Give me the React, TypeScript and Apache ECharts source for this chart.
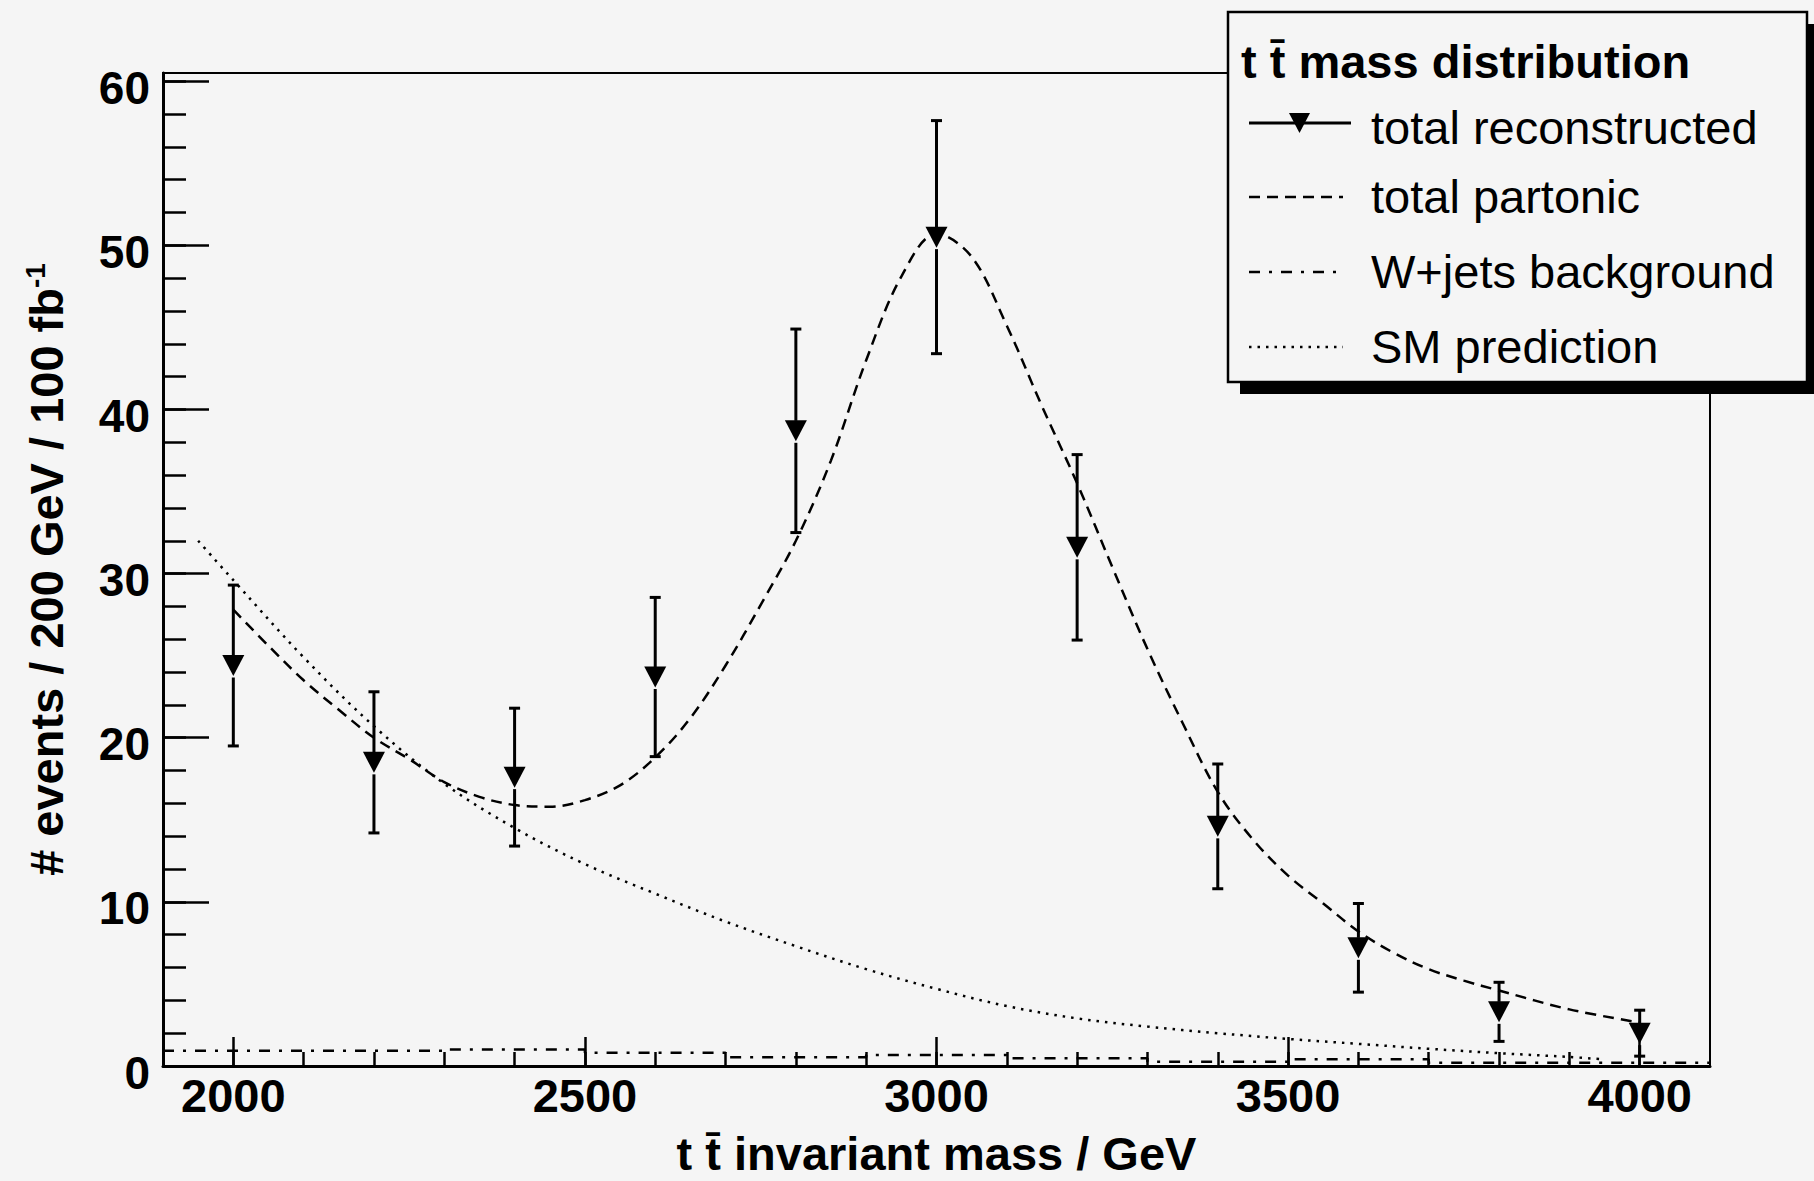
import React, { useEffect, useRef } from "react";
import * as echarts from "echarts";

const FONT = '"Liberation Sans", Arial, Helvetica, sans-serif';
const BG = "#f5f5f5";
const INK = "#000000";

// ---- data ----
const binCenters = [2000, 2200, 2400, 2600, 2800, 3000, 3200, 3400, 3600, 3800, 4000];
const binHalfWidth = 100;
const reconstructed = [24.4, 18.5, 17.6, 23.7, 38.7, 50.5, 31.6, 14.6, 7.2, 3.3, 2.0];
const reconstructedErr = [4.9, 4.3, 4.2, 4.85, 6.2, 7.1, 5.65, 3.8, 2.7, 1.8, 1.4];
const wjetsBackground = [0.93, 0.93, 1.0, 0.8, 0.53, 0.67, 0.47, 0.26, 0.41, 0.2, 0.2];

const partonicMass = [
  2000, 2050, 2100, 2150, 2200, 2250, 2300, 2350, 2400, 2450, 2500, 2550, 2600, 2650,
  2700, 2750, 2800, 2850, 2900, 2950, 3000, 3050, 3100, 3150, 3200, 3250, 3300, 3350,
  3400, 3450, 3500, 3550, 3600, 3650, 3700, 3750, 3800, 3900, 4000,
];
const partonicValues = [
  27.8, 25.6, 23.5, 21.7, 20.0, 18.7, 17.3, 16.4, 15.9, 15.8, 16.2, 17.1, 18.8, 21.2,
  24.4, 28.1, 32.0, 36.9, 43.0, 48.1, 50.7, 49.3, 45.1, 40.2, 35.5, 30.4, 25.4, 20.9,
  16.7, 13.8, 11.6, 9.9, 8.2, 6.9, 5.9, 5.2, 4.6, 3.45, 2.65,
];

const smMass = [
  1950, 2000, 2100, 2200, 2300, 2400, 2500, 2600, 2700, 2800, 2900, 3000, 3100, 3200,
  3300, 3400, 3500, 3600, 3700, 3800, 3900, 3950,
];
const smValues = [
  32.0, 29.6, 24.9, 20.7, 17.2, 14.5, 12.3, 10.5, 8.8, 7.3, 5.9, 4.7, 3.65, 2.9,
  2.4, 2.0, 1.65, 1.35, 1.05, 0.78, 0.55, 0.4,
];

const xMajorTicks = [2000, 2500, 3000, 3500, 4000];
const xMinorTicks = [
  2000, 2100, 2200, 2300, 2400, 2500, 2600, 2700, 2800, 2900, 3000,
  3100, 3200, 3300, 3400, 3500, 3600, 3700, 3800, 3900, 4000,
];
const yMajorTicks = [0, 10, 20, 30, 40, 50, 60];
const yMinorTicks = [
  0, 2, 4, 6, 8, 10, 12, 14, 16, 18, 20, 22, 24, 26, 28, 30,
  32, 34, 36, 38, 40, 42, 44, 46, 48, 50, 52, 54, 56, 58, 60,
];

const legendTitle = "t t\u0304 mass distribution";
const legendLabels = ["total reconstructed", "total partonic", "W+jets background", "SM prediction"];
const xTitle = "t t\u0304 invariant mass / GeV";

export default function App() {
  const ref = useRef<HTMLDivElement>(null);

  useEffect(() => {
    if (!ref.current) return;
    const chart = echarts.init(ref.current, null, { renderer: "svg" });

    const recoData = binCenters.map((x, i) => [x, reconstructed[i]]);
    const errData = binCenters.map((x, i) => [x, reconstructed[i], reconstructedErr[i]]);
    const partonicData = partonicMass.map((x, i) => [x, partonicValues[i]]);
    const smData = smMass.map((x, i) => [x, smValues[i]]);
    const wjetsData = binCenters.map((x, i) => [x - binHalfWidth, wjetsBackground[i]]);
    wjetsData.push([
      binCenters[binCenters.length - 1] + binHalfWidth,
      wjetsBackground[wjetsBackground.length - 1],
    ]);

    const renderErr = (params: any, api: any) => {
      const x = api.value(0);
      const y = api.value(1);
      const e = api.value(2);
      const pc = api.coord([x, y]);
      const pt = api.coord([x, y + e]);
      const pb = api.coord([x, y - e]);
      const st = { stroke: INK, lineWidth: 3 };
      const cap = 5.5;
      const children: any[] = [];
      if (pt[1] < pc[1] - 10)
        children.push({ type: "line", shape: { x1: pc[0], y1: pt[1], x2: pc[0], y2: pc[1] - 10 }, style: st });
      if (pb[1] > pc[1] + 12)
        children.push({ type: "line", shape: { x1: pc[0], y1: pc[1] + 12, x2: pc[0], y2: pb[1] }, style: st });
      children.push({ type: "line", shape: { x1: pc[0] - cap, y1: pt[1], x2: pc[0] + cap, y2: pt[1] }, style: st });
      children.push({ type: "line", shape: { x1: pc[0] - cap, y1: pb[1], x2: pc[0] + cap, y2: pb[1] }, style: st });
      return { type: "group", children };
    };

    const txt = (text: string, x: number, y: number, bold: boolean) => ({
      type: "text",
      x,
      y,
      z: 102,
      style: {
        text,
        fontSize: 47,
        fontWeight: bold ? "bold" : "normal",
        fontFamily: FONT,
        fill: INK,
        align: "left",
        verticalAlign: "middle",
        textAlign: "left",
        textVerticalAlign: "middle",
      },
    });

    const plain = (v: number) => String(v);
    const shifted = (v: number) => `{v|${v}}`;

    const option: any = {
      animation: false,
      backgroundColor: BG,
      textStyle: { fontFamily: FONT },
      grid: {
        left: 163,
        right: 104,
        top: 73,
        bottom: 115,
        show: true,
        borderColor: INK,
        borderWidth: 2,
        backgroundColor: "transparent",
        containLabel: false,
        outerBoundsMode: "none",
      },
      xAxis: [
        {
          type: "value",
          min: 1900,
          max: 4100,
          position: "bottom",
          axisLine: { show: true, onZero: false, lineStyle: { color: INK, width: 3 } },
          axisTick: { show: true, inside: true, length: 14, customValues: xMinorTicks, lineStyle: { color: INK, width: 2.5 } },
          axisLabel: { show: false },
          splitLine: { show: false },
          name: xTitle,
          nameLocation: "middle",
          nameGap: 64,
          nameTextStyle: { fontSize: 47, fontWeight: "bold", color: INK, fontFamily: FONT, lineHeight: 47 },
        },
        {
          type: "value",
          min: 1900,
          max: 4100,
          position: "bottom",
          axisLine: { show: false, onZero: false },
          axisTick: { show: true, inside: true, length: 29, customValues: xMajorTicks, lineStyle: { color: INK, width: 2.5 } },
          axisLabel: { show: true, customValues: xMajorTicks, formatter: plain, fontSize: 47, fontWeight: "bold", color: INK, margin: 6, fontFamily: FONT },
          splitLine: { show: false },
        },
      ],
      yAxis: [
        {
          type: "value",
          min: 0,
          max: 60.5,
          position: "left",
          axisLine: { show: true, onZero: false, lineStyle: { color: INK, width: 3 } },
          axisTick: { show: true, inside: true, length: 23, customValues: yMinorTicks, lineStyle: { color: INK, width: 2.5 } },
          axisLabel: { show: false },
          splitLine: { show: false },
          name: "{m|# events / 200 GeV / 100 fb}{s|-1}",
          nameLocation: "middle",
          nameRotate: 90,
          nameGap: 92,
          nameTextStyle: {
            rich: {
              m: { fontSize: 47, fontWeight: "bold", color: INK, fontFamily: FONT, lineHeight: 50 },
              s: { fontSize: 28, fontWeight: "bold", color: INK, fontFamily: FONT, lineHeight: 28, verticalAlign: "top" },
            },
          },
        },
        {
          type: "value",
          min: 0,
          max: 60.5,
          position: "left",
          axisLine: { show: false, onZero: false },
          axisTick: { show: true, inside: true, length: 46, customValues: yMajorTicks, lineStyle: { color: INK, width: 2.5 } },
          axisLabel: {
            show: true,
            customValues: yMajorTicks,
            formatter: shifted,
            margin: 13,
            rich: {
              v: { fontSize: 46, fontWeight: "bold", color: INK, fontFamily: FONT, lineHeight: 46, padding: [13, 0, 0, 0] },
            },
          },
          splitLine: { show: false },
        },
      ],
      series: [
        {
          name: "W+jets background",
          type: "line",
          step: "end",
          data: wjetsData,
          symbol: "none",
          lineStyle: { color: INK, width: 2.5, type: [11, 9, 3, 9] },
          z: 2,
        },
        {
          name: "SM prediction",
          type: "line",
          smooth: 0.35,
          data: smData,
          symbol: "none",
          lineStyle: { color: INK, width: 2.5, type: [2.5, 6] },
          z: 2,
        },
        {
          name: "total partonic",
          type: "line",
          smooth: 0.35,
          data: partonicData,
          symbol: "none",
          lineStyle: { color: INK, width: 2.5, type: [11, 7] },
          z: 3,
        },
        {
          name: "errors",
          type: "custom",
          renderItem: renderErr,
          data: errData,
          encode: { x: 0, y: 1 },
          z: 4,
        },
        {
          name: "total reconstructed",
          type: "scatter",
          data: recoData,
          symbol: "triangle",
          symbolRotate: 180,
          symbolSize: [22, 21],
          itemStyle: { color: INK, opacity: 1 },
          z: 5,
        },
      ],
      graphic: [
        { type: "rect", z: 100, shape: { x: 1240, y: 24, width: 579, height: 370 }, style: { fill: INK } },
        { type: "rect", z: 101, shape: { x: 1228, y: 12, width: 579, height: 370 }, style: { fill: BG, stroke: INK, lineWidth: 2.5 } },
        txt(legendTitle, 1241, 61, true),
        { type: "line", z: 102, shape: { x1: 1249, y1: 123, x2: 1351, y2: 123 }, style: { stroke: INK, lineWidth: 3 } },
        { type: "polygon", z: 103, shape: { points: [[1289, 113], [1310, 113], [1299.5, 133]] }, style: { fill: INK } },
        txt(legendLabels[0], 1371, 127, false),
        { type: "line", z: 102, shape: { x1: 1249, y1: 197, x2: 1343, y2: 197 }, style: { stroke: INK, lineWidth: 2.5, lineDash: [11, 7] } },
        txt(legendLabels[1], 1371, 196, false),
        { type: "line", z: 102, shape: { x1: 1249, y1: 272, x2: 1343, y2: 272 }, style: { stroke: INK, lineWidth: 2.5, lineDash: [11, 9, 3, 9] } },
        txt(legendLabels[2], 1371, 271, false),
        { type: "line", z: 102, shape: { x1: 1249, y1: 347, x2: 1343, y2: 347 }, style: { stroke: INK, lineWidth: 2.5, lineDash: [2.5, 6] } },
        txt(legendLabels[3], 1371, 346, false),
      ],
    };

    chart.setOption(option);
    return () => chart.dispose();
  }, []);

  return (
    <div
      ref={ref}
      style={{ position: "absolute", left: 0, top: 0, width: 1814, height: 1181, background: BG }}
    />
  );
}
